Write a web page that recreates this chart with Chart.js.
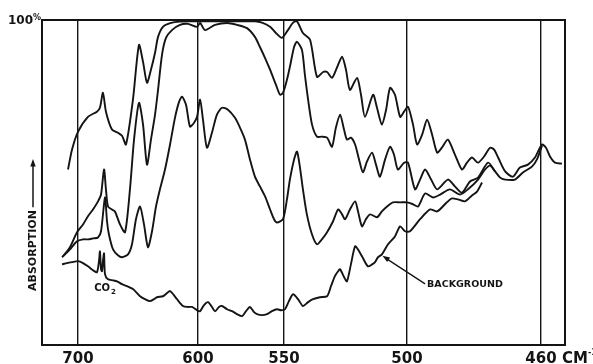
<!DOCTYPE html>
<html>
<head>
<meta charset="utf-8">
<script src="https://cdn.jsdelivr.net/npm/chart.js@4/dist/chart.umd.min.js"></script>
<style>
  html, body { margin: 0; padding: 0; background: #fff; }
</style>
</head>
<body>
<canvas id="spectrum" width="593" height="364"></canvas>
<script>
// tick positions on the wavenumber axis (cm-1)
const tickWavenumbers = [700, 600, 550, 500, 460];

// traces: wavenumber (cm-1) / absorption (%)
const sample1Wn = [708.3, 705, 700, 691.7, 684.2, 681.7, 679.2, 676.7, 671.7, 666.7, 663.3, 660, 654.2, 649.2, 645.8, 642.5, 639.2, 635.8, 633.3, 629.2, 622.5, 615, 606.7, 581.4, 566.9, 562.8, 558.1, 554.7, 551.2, 548.4, 546.3, 544.7, 542.3, 539.4, 536.6, 534.1, 532.5, 530.5, 528.5, 526.4, 524.8, 523.2, 520.3, 518.7, 517.1, 513.8, 512.2, 510.2, 508.5, 506.9, 504.9, 502.8, 501.2, 499.7, 498.2, 497, 495.5, 494, 492.5, 491, 489.6, 487.8, 485.7, 483.6, 482.1, 480.6, 478.8, 477, 475.2, 474, 472.8, 470.7, 468.4, 466.3, 463.9, 461.8, 459.7, 458.5, 457.3, 455.8, 453.7];
const sample1Abs = [54.0, 60.1, 65.6, 70.2, 71.8, 73.0, 77.6, 71.8, 66.3, 65.3, 64.4, 61.7, 75.5, 92.3, 87.1, 80.7, 84.7, 89.9, 94.8, 97.9, 99.1, 99.5, 99.6, 99.6, 99.6, 99.2, 97.9, 96.0, 94.5, 96.9, 99.2, 99.6, 96.0, 93.9, 82.5, 84.0, 84.0, 82.2, 85.3, 88.7, 84.7, 78.5, 82.2, 77.0, 70.2, 77.0, 73.0, 67.8, 72.4, 79.1, 77.0, 70.2, 71.8, 73.3, 67.8, 61.7, 64.7, 69.3, 64.7, 59.2, 60.7, 63.2, 58.6, 54.0, 56.1, 57.7, 56.1, 58.0, 60.7, 60.1, 57.7, 53.4, 51.8, 54.6, 55.5, 57.7, 61.7, 60.7, 58.0, 56.1, 55.8];

const sample2Wn = [712.5, 706.7, 700.8, 695.8, 691.7, 687.5, 683.3, 680.8, 678.3, 676.7, 675, 671.7, 669.2, 665, 660.8, 656.7, 653.3, 649.2, 645.8, 642.5, 639.2, 635.8, 633.3, 630, 626.7, 621.7, 615, 608.3, 600.8, 598.8, 595.9, 590.1, 583.1, 577.3, 571.5, 566.9, 564, 561, 558.1, 554.7, 552.3, 550.6, 548.8, 547.6, 545.9, 544.7, 542.7, 541.5, 540.2, 538.6, 536.6, 534.6, 532.5, 530.5, 528.9, 527.2, 525.6, 524.4, 522.8, 521.1, 519.5, 517.9, 516.3, 514.2, 512.6, 511, 508.9, 506.9, 505.3, 503.7, 501.2, 499.7, 497.6, 496.1, 494.6, 492.8, 491, 487.8, 485.7, 483.6, 481.2, 478.8, 475.8, 473.7, 472.2, 470.7, 467.8, 465.4, 462.7, 461.2, 459.7];
const sample2Abs = [27.3, 30.1, 34.7, 37.1, 39.6, 41.7, 44.2, 46.3, 54.0, 47.9, 42.6, 41.7, 41.1, 37.1, 34.7, 47.9, 63.2, 74.5, 67.8, 55.5, 63.2, 70.9, 78.5, 89.3, 94.5, 96.9, 98.5, 98.8, 97.9, 99.1, 96.9, 98.5, 99.1, 98.5, 97.5, 94.8, 91.7, 88.3, 84.7, 80.1, 77.0, 77.6, 81.6, 85.6, 91.7, 93.3, 90.8, 83.1, 75.5, 67.8, 64.1, 64.1, 63.8, 61.0, 66.9, 70.9, 66.3, 63.2, 63.8, 61.7, 57.1, 53.1, 56.4, 59.2, 55.5, 51.8, 57.1, 61.0, 58.6, 54.0, 56.1, 56.1, 47.9, 50.9, 54.0, 50.9, 47.9, 50.9, 48.8, 46.9, 50.3, 51.5, 56.1, 53.4, 51.5, 50.9, 50.9, 53.1, 54.9, 57.1, 61.3];

const sample3Wn = [713.3, 706.7, 700.8, 695.8, 691.7, 687.5, 683.3, 680.8, 677.5, 675.8, 674.2, 670.8, 666.7, 663.3, 658.3, 655, 651.7, 648.3, 645, 641.7, 638.3, 635, 631.7, 627.5, 623.3, 619.2, 615.8, 613.3, 610, 606.7, 603.3, 600.8, 598.8, 597.1, 594.8, 591.9, 589, 586, 582.6, 578.5, 575.6, 572.7, 569.8, 566.9, 564, 561, 558.1, 555.8, 554.1, 550.6, 548.8, 547.6, 545.9, 544.7, 543.5, 542.3, 540.7, 538.6, 536.6, 534.6, 532.5, 530.1, 528, 526.4, 525.2, 523.2, 521.1, 519.9, 518.3, 516.7, 515, 512.2, 510.2, 508.1, 505.7, 502.8, 500, 498.2, 496.7, 494.6, 492.2, 490.1, 487.2, 484.2, 481.8, 478.8, 476.7, 475.2, 473.7];
const sample3Abs = [27.0, 29.4, 31.9, 32.5, 32.5, 32.8, 33.1, 35.0, 45.4, 38.0, 34.0, 29.4, 27.6, 27.0, 27.9, 31.0, 38.7, 42.6, 37.1, 30.1, 35.0, 42.6, 47.9, 54.0, 61.7, 69.9, 74.8, 76.4, 73.9, 67.2, 68.4, 70.2, 75.5, 69.3, 60.7, 65.3, 70.9, 73.0, 72.4, 69.9, 66.9, 63.2, 57.1, 51.8, 48.8, 45.7, 41.7, 38.7, 37.7, 38.7, 44.8, 50.9, 57.1, 59.5, 54.6, 47.9, 40.2, 34.0, 31.0, 32.5, 34.7, 38.0, 41.7, 40.2, 38.7, 41.7, 44.2, 41.1, 36.5, 38.7, 40.2, 39.3, 41.1, 42.6, 43.9, 43.9, 43.9, 43.3, 42.6, 46.6, 45.4, 46.3, 47.9, 46.3, 47.9, 50.9, 54.0, 55.2, 53.4];

const backgroundWn = [713.3, 709.2, 705, 700, 695.8, 691.7, 687.5, 684.2, 682.5, 681.7, 680.8, 680, 679.2, 678.3, 677.5, 675, 670.8, 667.5, 663.3, 659.2, 654.2, 648.3, 644.2, 640, 636.7, 634.2, 629.2, 625.8, 623.3, 620, 617.5, 612.5, 608.3, 605, 600.8, 598.8, 596.5, 594.2, 591.9, 590.1, 587.8, 586, 583.1, 580.2, 577.3, 574.4, 572.1, 569.8, 567.4, 565.7, 562.8, 559.9, 557, 554.1, 551.7, 549.6, 548, 546.3, 544.3, 542.3, 540.2, 538.2, 535.4, 532.5, 530.9, 529.3, 528, 527.2, 525.6, 524.4, 522.8, 521.1, 519.9, 518.3, 515.9, 514.2, 513, 511.8, 510.2, 507.7, 504.9, 502.8, 500.8, 499.1, 496.1, 493.1, 491, 488.1, 486.6, 484.8, 482.7, 480.6, 479.1, 477.6];
const backgroundAbs = [24.8, 25.2, 25.5, 25.8, 25.2, 24.2, 23.0, 22.4, 25.8, 28.8, 23.3, 22.7, 25.8, 28.2, 21.8, 20.2, 19.9, 19.6, 18.7, 18.1, 17.2, 15.0, 14.1, 13.5, 14.1, 14.7, 15.0, 16.0, 16.6, 15.3, 14.1, 12.0, 11.7, 11.7, 10.7, 10.4, 12.3, 13.2, 11.7, 10.4, 11.7, 12.0, 11.0, 10.4, 9.5, 8.9, 10.4, 11.7, 10.1, 9.5, 9.2, 9.5, 10.4, 11.0, 10.7, 11.0, 13.5, 15.6, 14.1, 12.0, 13.2, 14.1, 14.7, 15.0, 18.1, 21.2, 22.7, 23.3, 20.9, 19.6, 24.8, 30.4, 29.4, 27.3, 24.2, 24.8, 25.5, 27.0, 27.9, 31.0, 33.4, 36.5, 35.0, 35.0, 38.7, 41.7, 41.1, 43.9, 45.1, 44.8, 44.2, 46.0, 47.2, 50.0];

// the recorder's wavenumber axis is not linear: calibration knots
// (wavenumber, fraction of plot width from the left)
const axisKnots = [[730, 0], [700, 0.0688], [600, 0.2983], [550, 0.4627], [500, 0.6979], [460, 0.9541], [452.8, 1]];

function wnToFrac(v) {
  for (let i = 0; i < axisKnots.length - 1; i++) {
    const [a, fa] = axisKnots[i], [b, fb] = axisKnots[i + 1];
    if (v >= b || i === axisKnots.length - 2) return fa + (a - v) / (a - b) * (fb - fa);
  }
}

function fracToWn(f) {
  for (let i = 0; i < axisKnots.length - 1; i++) {
    const [a, fa] = axisKnots[i], [b, fb] = axisKnots[i + 1];
    if (f <= fb || i === axisKnots.length - 2) return a + (f - fa) / (fb - fa) * (b - a);
  }
}

class SpectrumScale extends Chart.LinearScale {
  getPixelForValue(value) {
    return this.left + wnToFrac(value) * this.width;
  }
  getValueForPixel(pixel) {
    return fracToWn((pixel - this.left) / this.width);
  }
}
SpectrumScale.id = 'spectrum';
SpectrumScale.defaults = Chart.LinearScale.defaults;
Chart.register(SpectrumScale);

const toPoints = (wn, abs) => wn.map((x, i) => ({ x, y: abs[i] }));

const ink = '#141414';
const font = '"DejaVu Sans", sans-serif';
const tickPad = 7;

function arrowHead(ctx, fx, fy, tx, ty, size) {
  const ang = Math.atan2(ty - fy, tx - fx);
  ctx.beginPath();
  ctx.moveTo(tx, ty);
  ctx.lineTo(tx - size * Math.cos(ang - 0.35), ty - size * Math.sin(ang - 0.35));
  ctx.lineTo(tx - size * Math.cos(ang + 0.35), ty - size * Math.sin(ang + 0.35));
  ctx.closePath();
  ctx.fill();
}

const decorations = {
  id: 'decorations',
  afterDraw(chart) {
    const { ctx, chartArea: a, scales: { x, y } } = chart;
    ctx.save();
    ctx.strokeStyle = ink;
    ctx.fillStyle = ink;

    // frame
    ctx.lineWidth = 2;
    ctx.strokeRect(a.left, a.top, a.right - a.left, a.bottom - a.top);

    // 100% mark
    ctx.textBaseline = 'middle';
    ctx.textAlign = 'right';
    ctx.font = 'bold 12px ' + font;
    ctx.fillText('100', a.left - 9, a.top + 1);
    ctx.textAlign = 'left';
    ctx.font = 'bold 8px ' + font;
    ctx.fillText('%', a.left - 9, a.top - 2);

    // y title with arrow
    ctx.save();
    ctx.translate(33, a.bottom - 54);
    ctx.rotate(-Math.PI / 2);
    ctx.font = 'bold 11px ' + font;
    ctx.textAlign = 'left';
    ctx.fillText('ABSORPTION', 0, 0);
    const w = ctx.measureText('ABSORPTION').width;
    ctx.lineWidth = 1.5;
    ctx.beginPath();
    ctx.moveTo(w + 3, 0);
    ctx.lineTo(128, 0);
    ctx.stroke();
    arrowHead(ctx, w + 3, 0, 132, 0, 8);
    ctx.restore();

    // CO2 label
    const co2x = x.getPixelForValue(686.5);
    const co2y = y.getPixelForValue(17.5);
    ctx.font = 'bold 10px ' + font;
    ctx.textAlign = 'left';
    ctx.fillText('CO', co2x, co2y);
    const coW = ctx.measureText('CO').width;
    ctx.font = 'bold 7px ' + font;
    ctx.fillText('2', co2x + coW + 1, co2y + 4);

    // BACKGROUND label and arrow
    const tipX = x.getPixelForValue(510.0), tipY = y.getPixelForValue(27.5);
    const lx = x.getPixelForValue(494.0), ly = y.getPixelForValue(18.5);
    ctx.font = 'bold 9.5px ' + font;
    ctx.fillText('BACKGROUND', lx, ly);
    ctx.lineWidth = 1.3;
    ctx.beginPath();
    ctx.moveTo(lx - 2, ly - 1);
    ctx.lineTo(tipX + 4, tipY + 3);
    ctx.stroke();
    arrowHead(ctx, lx - 2, ly - 1, tipX, tipY, 8);

    // unit after the last tick label
    const ux = x.getPixelForValue(460) + 21;
    const uy = a.bottom + tickPad + 7.5;
    ctx.font = 'bold 15px ' + font;
    ctx.fillText('CM', ux, uy);
    ctx.font = 'bold 8px ' + font;
    ctx.fillText('-1', ux + 26, uy - 7);
    ctx.restore();
  }
};

const lineStyle = {
  borderColor: ink,
  borderWidth: 1.9,
  pointRadius: 0,
  tension: 0.25,
  fill: false
};

new Chart(document.getElementById('spectrum'), {
  type: 'line',
  data: {
    datasets: [
      { label: 'sample 1', data: toPoints(sample1Wn, sample1Abs), ...lineStyle },
      { label: 'sample 2', data: toPoints(sample2Wn, sample2Abs), ...lineStyle },
      { label: 'sample 3', data: toPoints(sample3Wn, sample3Abs), ...lineStyle },
      { label: 'background', data: toPoints(backgroundWn, backgroundAbs), ...lineStyle }
    ]
  },
  options: {
    responsive: false,
    animation: false,
    layout: { padding: { left: 42, top: 20, right: 28, bottom: -10 } },
    plugins: {
      legend: { display: false },
      tooltip: { enabled: false }
    },
    scales: {
      x: {
        type: 'spectrum',
        min: 452.8,
        max: 730,
        afterBuildTicks: s => { s.ticks = tickWavenumbers.map(v => ({ value: v })); },
        ticks: {
          color: ink,
          autoSkip: false,
          maxRotation: 0,
          padding: tickPad,
          font: { family: font, weight: 'bold', size: 15, lineHeight: 1 },
          callback: v => String(v)
        },
        grid: { color: ink, lineWidth: 1.4, drawTicks: false },
        border: { display: false }
      },
      y: {
        display: false,
        min: 0,
        max: 100
      }
    }
  },
  plugins: [decorations]
});
</script>
</body>
</html>
